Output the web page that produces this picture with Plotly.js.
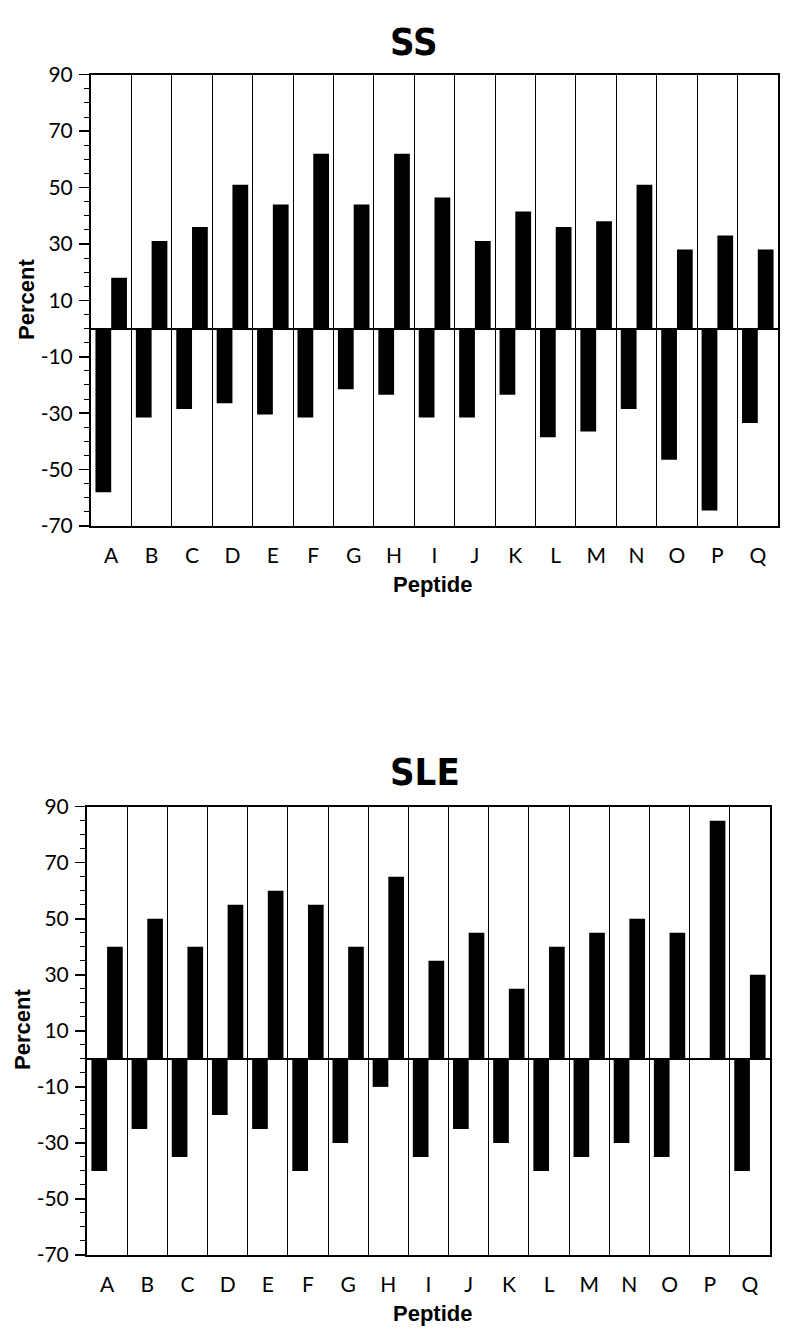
<!DOCTYPE html>
<html>
<head>
<meta charset="utf-8">
<script src="https://cdn.plot.ly/plotly-3.0.1.min.js"></script>
<style>html,body{margin:0;padding:0;background:#fff;}#chart{width:800px;height:1336px;}</style>
</head>
<body>
<div id="chart"></div>
<script>
const peptides = ["A","B","C","D","E","F","G","H","I","J","K","L","M","N","O","P","Q"];
const yTicks = [-70,-50,-30,-10,10,30,50,70,90];
const yTickText = ["-70","-50","-30","-10","10","30","50","70","90"];
const ssNeg = [-58,-31.5,-28.5,-26.5,-30.5,-31.5,-21.5,-23.5,-31.5,-31.5,-23.5,-38.5,-36.5,-28.5,-46.5,-64.5,-33.5];
const ssPos = [18,31,36,51,44,62,44,62,46.5,31,41.5,36,38,51,28,33,28];
const sleNeg = [-40,-25,-35,-20,-25,-40,-30,-10,-35,-25,-30,-40,-35,-30,-35,0,-40];
const slePos = [40,50,40,55,60,55,40,65,35,45,25,40,45,50,45,85,30];

const tickFont = {family:"Lato, 'DejaVu Sans', sans-serif", size:21, color:"#000"};
const labFont = {family:"'Liberation Sans', Arial, sans-serif", size:22, color:"#000", weight:"bold"};
const titleFont = {family:"'Liberation Sans Narrow', 'DejaVu Sans Condensed', 'Arial Narrow', sans-serif", size:38, color:"#000", weight:"bold"};

function bar(x, y, xa, ya){
  return {type:"bar", x:x, y:y, xaxis:xa, yaxis:ya, marker:{color:"#000", line:{width:0}}, showlegend:false, hoverinfo:"skip"};
}
const data = [
  bar(peptides, ssNeg, "x", "y"),
  bar(peptides, ssPos, "x", "y"),
  bar(peptides, sleNeg, "x2", "y2"),
  bar(peptides, slePos, "x2", "y2")
];

function xax(domain, anchor){
  return {domain:domain, anchor:anchor, type:"category", tickson:"boundaries", ticks:"", showgrid:true,
    gridcolor:"#000", gridwidth:1, showline:true, mirror:true, linecolor:"#000", linewidth:2,
    tickfont:tickFont, ticklabelstandoff:10, fixedrange:true};
}
function yax(domain, anchor){
  return {domain:domain, anchor:anchor, range:[-70,90], tickmode:"array", tickvals:yTicks, ticktext:yTickText,
    ticks:"outside", ticklen:10, tickwidth:1.5,
    tickcolor:"#000", minor:{dtick:5, tick0:0, ticks:"outside", ticklen:5, tickcolor:"#000", tickwidth:1, showgrid:false},
    showgrid:false, zeroline:true, zerolinecolor:"#000", zerolinewidth:2, showline:true, mirror:true,
    linecolor:"#000", linewidth:2, tickfont:tickFont, ticklabelstandoff:2, fixedrange:true};
}

function ann(text, xpx, ypx, font, angle){
  return {text:text, x:xpx/800, y:1-ypx/1336, xref:"paper", yref:"paper", xanchor:"center", yanchor:"middle",
    showarrow:false, textangle:angle||0, font:font};
}

const layout = {
  width:800, height:1336, margin:{l:0,r:0,t:0,b:0}, paper_bgcolor:"#fff", plot_bgcolor:"#fff",
  barmode:"group", bargap:0.22, bargroupgap:0,
  xaxis: xax([91/800, 778/800], "y"),
  yaxis: yax([1-526/1336, 1-74.7/1336], "x"),
  xaxis2: xax([87/800, 770/800], "y2"),
  yaxis2: yax([1-1255/1336, 1-806.7/1336], "x2"),
  annotations:[
    ann("SS", 414, 42, titleFont),
    ann("SLE", 425, 772, titleFont),
    ann("Peptide", 432, 584, labFont),
    ann("Peptide", 432, 1313, labFont),
    ann("Percent", 26, 300, labFont, -90),
    ann("Percent", 22, 1030, labFont, -90)
  ]
};
Plotly.newPlot("chart", data, layout, {displayModeBar:false, staticPlot:true});
</script>
</body>
</html>
